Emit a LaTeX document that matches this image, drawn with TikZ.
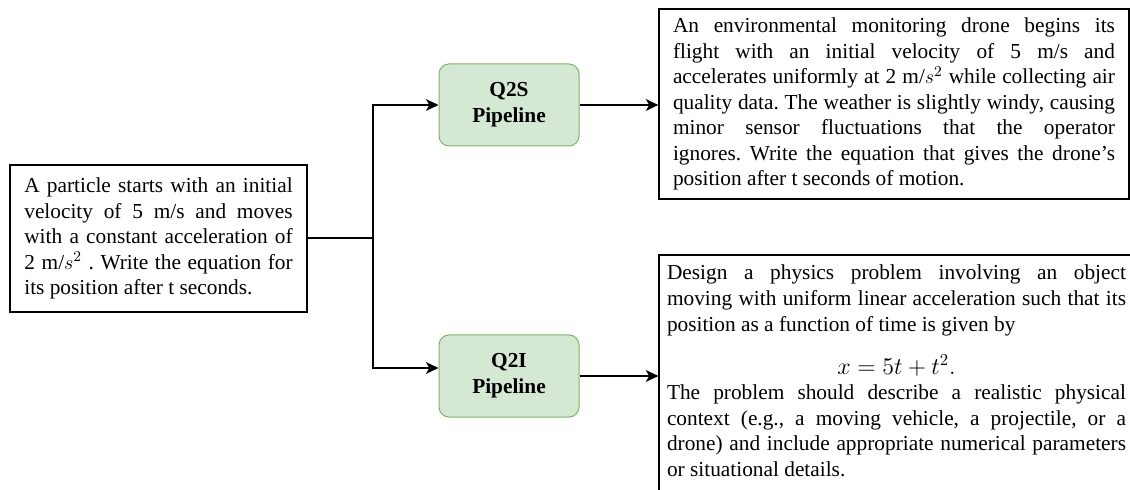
\documentclass[tikz,border=0pt]{standalone}
\usepackage{fontspec}
\setmainfont{Liberation Serif}
\usetikzlibrary{arrows.meta}
\setlength{\parindent}{0pt}
\frenchspacing
\hyphenpenalty=10000
\tolerance=9999

\definecolor{pipefill}{HTML}{D5E8D4}
\definecolor{pipedraw}{HTML}{82B366}

\tikzset{
    textbox/.style={draw, line width=0.7pt, align=justify, font=\fontsize{12.8pt}{15.3pt}\selectfont},
    pipebox/.style={draw=pipedraw, fill=pipefill, line width=0.6pt, rounded corners=6pt, minimum width=84pt, minimum height=49.2pt, align=center, font=\fontsize{12.8pt}{15.6pt}\selectfont\bfseries},
    flow/.style={-{Stealth[length=7.5pt,width=7pt,inset=2pt]}, line width=1.2pt}
}

\begin{document}
\begin{tikzpicture}
    \useasboundingbox (0,0) rectangle (678pt,-294pt);
    \clip (0,0) rectangle (678pt,-294pt);

    % Draw the original question
    \node[textbox, text width=161pt, inner xsep=8.6pt, minimum height=88.2pt] (question) at (95.1pt,-143.1pt) {A particle starts with an initial\linebreak velocity of 5 m/s and moves\linebreak with a constant acceleration of\linebreak 2 m/$s^2$ . Write the equation for\linebreak its position after t seconds.};

    % Draw the two pipelines
    \node[pipebox] (q2s) at (305.4pt,-63pt) {Q2S\\Pipeline};
    \node[pipebox] (q2i) at (305.4pt,-225.6pt) {Q2I\\Pipeline};

    % Draw the generated problems
    \node[textbox, text width=265.2pt, inner xsep=8.4pt, minimum height=114pt] (scene) at (536.4pt,-62.4pt) {An environmental monitoring drone begins its\linebreak flight with an initial velocity of 5 m/s and\linebreak accelerates uniformly at 2 m/$s^2$ while collecting air\linebreak quality data. The weather is slightly windy, causing\linebreak minor sensor fluctuations that the operator\linebreak ignores. Write the equation that gives the drone’s\linebreak position after t seconds of motion.};
    \node[textbox, text width=275.4pt, inner xsep=4.8pt, minimum height=144pt] (design) at (537.9pt,-225pt) {Design a physics problem involving an object\linebreak moving with uniform linear acceleration such that its\linebreak position as a function of time is given by\par\vspace{10.8pt}\makebox[\linewidth]{\fontsize{14pt}{16pt}\selectfont$x = 5t + t^2.$}\par The problem should describe a realistic physical\linebreak context (e.g., a moving vehicle, a projectile, or a\linebreak drone) and include appropriate numerical parameters\linebreak or situational details.\par\vskip 4.8pt\hrule height 0pt width 0pt};

    % Draw the connectors
    \coordinate (split) at (223.8pt,0 |- question.east); % branch point
    \draw[line width=1.2pt] (question.east) -- (split);
    \draw[flow] (split) |- (q2s.west);
    \draw[flow] (split) |- ([yshift=4.8pt]q2i.west);
    \draw[flow] (q2s.east) -- (q2s.east -| scene.west);
    \draw[flow] (q2i.east) -- (q2i.east -| design.west);

\end{tikzpicture}
\end{document}
